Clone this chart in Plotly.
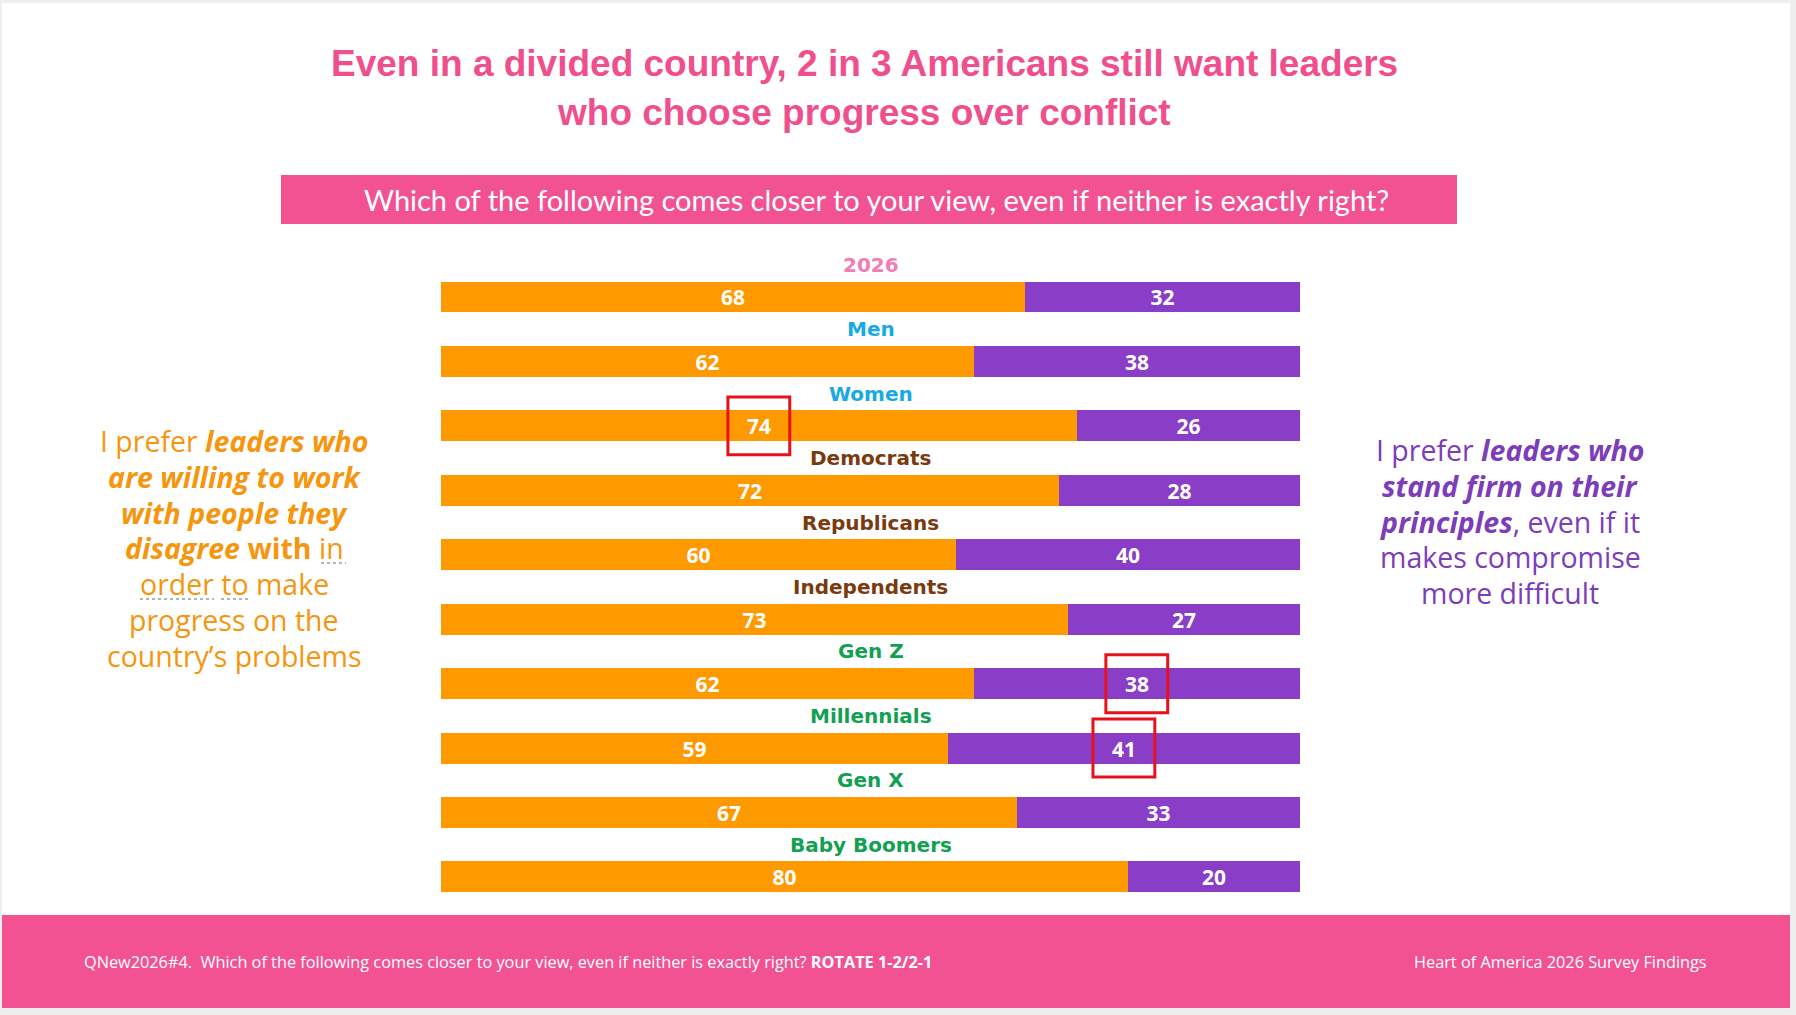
import plotly.graph_objects as go

# Survey data
groups = ["2026", "Men", "Women", "Democrats", "Republicans", "Independents",
          "Gen Z", "Millennials", "Gen X", "Baby Boomers"]
work_with_others = [68, 62, 74, 72, 60, 73, 62, 59, 67, 80]
stand_firm = [32, 38, 26, 28, 40, 27, 38, 41, 33, 20]
group_colors = ["#F27DB5", "#17A9E1", "#17A9E1", "#7A3A10", "#7A3A10", "#7A3A10",
                "#12A052", "#12A052", "#12A052", "#12A052"]

# highlighted values: (group, side)
highlights = [("Women", "left"), ("Gen Z", "right"), ("Millennials", "right")]

title_lines = ["Even in a divided country, 2 in 3 Americans still want leaders",
               "who choose progress over conflict"]
question = "Which of the following comes closer to your view, even if neither is exactly right?"
left_lines = ["I prefer <b><i>leaders who</i></b>",
              "<b><i>are willing to work</i></b>",
              "<b><i>with people they</i></b>",
              "<b><i>disagree</i> with</b> in",
              "order to make",
              "progress on the",
              "country\u2019s problems"]
right_lines = ["I prefer <b><i>leaders who</i></b>",
               "<b><i>stand firm on their</i></b>",
               "<b><i>principles</i></b>, even if it",
               "makes compromise",
               "more difficult"]
footer_left = ("QNew2026#4.  Which of the following comes closer to your view, "
               "even if neither is exactly right? <b>ROTATE 1-2/2-1</b>")
footer_right = "Heart of America 2026 Survey Findings"

ORANGE = "#FF9900"
PURPLE = "#8A3DC6"
PINK = "#F25292"

W, H = 1796, 1015
ML, MR, MT, MB = 441, 496, 245, 105
PW, PH = W - ML - MR, H - MT - MB


def px(x):
    return (x - ML) / PW


def py(y):
    return 1 - (y - MT) / PH


def text_at(x, y, text, font, xanchor="center"):
    return dict(x=px(x), y=py(y), xref="paper", yref="paper", text=text,
                showarrow=False, xanchor=xanchor, yanchor="middle", font=font)


rows = list(range(len(groups)))
bar_font = {"color": "white", "size": 21, "family": "Open Sans"}

fig = go.Figure()
for vals, color in [(work_with_others, ORANGE), (stand_firm, PURPLE)]:
    fig.add_trace(go.Bar(
        y=rows, x=vals, orientation="h", width=0.48,
        marker={"color": color, "line": {"width": 0}},
        texttemplate="<b>%{x}</b>", textposition="inside", insidetextanchor="middle",
        textangle=0, textfont=bar_font, constraintext="none", hoverinfo="skip",
    ))

shapes = [
    # slide background and footer band
    dict(type="rect", xref="paper", yref="paper", x0=px(2), x1=px(1790),
         y0=py(1008), y1=py(3), fillcolor="white", line_width=0, layer="below"),
    dict(type="rect", xref="paper", yref="paper", x0=px(2), x1=px(1790),
         y0=py(1008), y1=py(915), fillcolor=PINK, line_width=0, layer="below"),
    # question banner
    dict(type="rect", xref="paper", yref="paper", x0=px(281), x1=px(1457),
         y0=py(224), y1=py(175), fillcolor=PINK, line_width=0, layer="below"),
]

# dotted grammar-check marks under "in", "order", "to"
for x0, x1, y in [(321, 346, 563), (140, 214, 599), (221, 249, 599)]:
    shapes.append(dict(type="line", xref="paper", yref="paper", x0=px(x0), x1=px(x1),
                       y0=py(y), y1=py(y), line={"color": "#9a9a9a", "width": 1.5, "dash": "dot"}))

# red boxes around highlighted numbers
for name, side in highlights:
    i = groups.index(name)
    v = work_with_others[i]
    cx = v / 2 if side == "left" else v + stand_firm[i] / 2
    shapes.append(dict(type="rect", xref="x", yref="y", x0=cx - 3.6, x1=cx + 3.6,
                       y0=i - 0.45, y1=i + 0.45,
                       line={"color": "#E8101A", "width": 3}, fillcolor="rgba(0,0,0,0)"))

annotations = []
for i, (g, c) in enumerate(zip(groups, group_colors)):
    annotations.append(dict(x=50, y=i - 0.5, xref="x", yref="y", text=f"<b>{g}</b>",
                            showarrow=False, xanchor="center", yanchor="middle",
                            font={"family": "DejaVu Sans", "size": 20, "color": c}))

for k, line in enumerate(title_lines):
    annotations.append(text_at(864, 64 + 49 * k, f"<b>{line}</b>",
                               {"family": "Liberation Sans", "size": 37, "color": "#EF4F8D"}))

annotations.append(text_at(876, 199, question,
                           {"family": "Lato", "size": 29, "color": "white"}))

for k, line in enumerate(left_lines):
    annotations.append(text_at(234, 441 + 35.8 * k, line,
                               {"family": "Open Sans", "size": 28.5, "color": "#F5960E"}))

for k, line in enumerate(right_lines):
    annotations.append(text_at(1510, 450 + 35.8 * k, line,
                               {"family": "Open Sans", "size": 28.5, "color": "#7D3DB9"}))

annotations.append(text_at(82, 962, footer_left,
                           {"family": "Open Sans", "size": 16.3, "color": "white"}, xanchor="left"))
annotations.append(text_at(1709, 962, footer_right,
                           {"family": "Open Sans", "size": 16.3, "color": "white"}, xanchor="right"))

fig.update_layout(
    width=W, height=H,
    margin={"l": ML, "r": MR, "t": MT, "b": MB},
    barmode="stack",
    bargap=0,
    showlegend=False,
    paper_bgcolor="#EEEEEE",
    plot_bgcolor="rgba(0,0,0,0)",
    xaxis={"range": [0, 100], "visible": False, "fixedrange": True},
    yaxis={"range": [9.513, -0.807], "visible": False, "fixedrange": True},
    shapes=shapes,
    annotations=annotations,
)

fig.write_html("out.html", config={"displayModeBar": False},
               post_script="document.body.style.margin='0';")
